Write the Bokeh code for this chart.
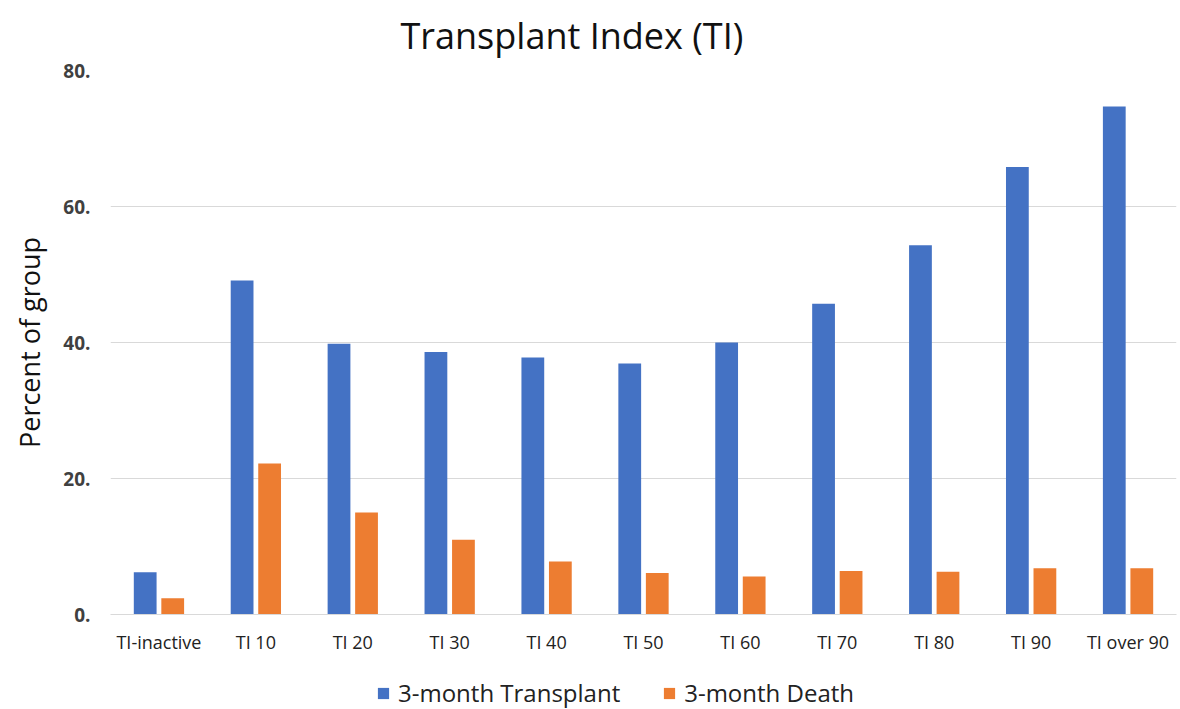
from bokeh.plotting import figure
from bokeh.layouts import column
from bokeh.models import (ColumnDataSource, FactorRange, Range1d, Legend, LegendItem,
                          PrintfTickFormatter, FixedTicker)
from bokeh.transform import dodge
from bokeh.embed import file_html
from bokeh.resources import INLINE

categories = ["TI-inactive", "TI 10", "TI 20", "TI 30", "TI 40", "TI 50",
              "TI 60", "TI 70", "TI 80", "TI 90", "TI over 90"]
transplant = [6.2, 49.1, 39.8, 38.6, 37.8, 36.9, 40.0, 45.7, 54.3, 65.8, 74.7]
death = [2.4, 22.2, 15.0, 11.0, 7.8, 6.1, 5.6, 6.4, 6.3, 6.8, 6.8]
y_ticks = [0, 20, 40, 60, 80]

title_text = "Transplant Index (TI)"
series_names = ["3-month Transplant", "3-month Death"]
blue = "#4472C4"
orange = "#ED7D31"
font = "Open Sans"

source = ColumnDataSource(dict(cat=categories, transplant=transplant, death=death))
x_range = FactorRange(*categories)

p = figure(width=1180, height=656, x_range=x_range,
           y_range=Range1d(0, 80), output_backend="svg", toolbar_location=None,
           min_border_left=110, min_border_right=4, min_border_top=70,
           min_border_bottom=40)

r1 = p.vbar(x=dodge("cat", -0.142, range=x_range), top="transplant", width=0.235,
            source=source, fill_color=blue, line_color=None)
r2 = p.vbar(x=dodge("cat", 0.142, range=x_range), top="death", width=0.235,
            source=source, fill_color=orange, line_color=None)

p.title.text = title_text
p.title.align = "left"
p.title.offset = 290
p.title.vertical_align = "top"
p.title.text_font = font
p.title.text_font_size = "36px"
p.title.text_font_style = "normal"
p.title.text_color = "#111111"
p.title.standoff = 18

p.outline_line_color = None
p.xgrid.grid_line_color = None
p.ygrid.grid_line_color = "#d9d9d9"
p.ygrid.grid_line_width = 1

p.yaxis.ticker = FixedTicker(ticks=y_ticks)
p.yaxis.formatter = PrintfTickFormatter(format="%d.")
p.yaxis.axis_line_color = None
p.yaxis.major_tick_line_color = None
p.yaxis.minor_tick_line_color = None
p.yaxis.major_label_text_font = font
p.yaxis.major_label_text_font_size = "19px"
p.yaxis.major_label_text_font_style = "bold"
p.yaxis.major_label_text_color = "#404040"
p.yaxis.major_label_standoff = 14
p.yaxis.axis_label = "Percent of group"
p.yaxis.axis_label_text_font = font
p.yaxis.axis_label_text_font_size = "27px"
p.yaxis.axis_label_text_font_style = "normal"
p.yaxis.axis_label_text_color = "#111111"
p.yaxis.axis_label_standoff = 12

p.xaxis.axis_line_color = "#d9d9d9"
p.xaxis.major_tick_line_color = None
p.xaxis.minor_tick_line_color = None
p.xaxis.major_label_text_font = font
p.xaxis.major_label_text_font_size = "18px"
p.xaxis.major_label_text_color = "#222222"
p.xaxis.major_label_standoff = 9

# legend strip below the chart (its frame is aligned with the chart's frame)
leg = figure(width=1180, height=53, x_range=x_range, y_range=Range1d(0, 80),
             x_axis_type=None, y_axis_type=None, output_backend="svg",
             toolbar_location=None, min_border_left=110, min_border_right=4,
             min_border_top=16, min_border_bottom=0)
leg.outline_line_color = None
leg.grid.visible = False
k1 = leg.vbar(x=dodge("cat", -0.142, range=x_range), top="transplant", width=0.235,
              source=source, fill_color=blue, line_color=None, visible=False)
k2 = leg.vbar(x=dodge("cat", 0.142, range=x_range), top="death", width=0.235,
              source=source, fill_color=orange, line_color=None, visible=False)

legend = Legend(items=[LegendItem(label=series_names[0], renderers=[k1]),
                       LegendItem(label=series_names[1], renderers=[k2])],
                orientation="horizontal", location=(266, 0))
legend.label_text_font = font
legend.label_text_font_size = "24px"
legend.label_text_color = "#222222"
legend.glyph_width = 14
legend.glyph_height = 14
legend.label_standoff = 8
legend.spacing = 42
legend.border_line_color = None
legend.background_fill_alpha = 0
legend.margin = 0
legend.padding = 0
leg.add_layout(legend, "center")

layout = column(p, leg, spacing=0)

open("out.html", "w").write(file_html(layout, INLINE))
